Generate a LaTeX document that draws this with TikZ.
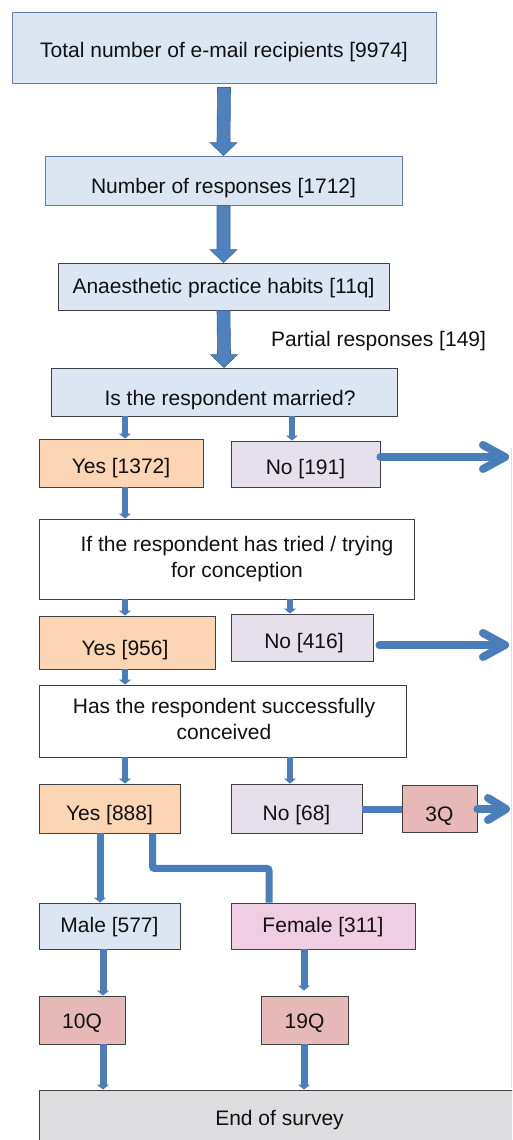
\documentclass[tikz,border=0pt]{standalone}
\usepackage{fontspec}
\setmainfont{Liberation Sans}
\usetikzlibrary{arrows.meta,calc}
\definecolor{abl}{HTML}{4A7EBB}
\definecolor{blkf}{HTML}{4F81BD}
\definecolor{blkd}{HTML}{3A6699}
\definecolor{bfill}{HTML}{DCE6F2}
\definecolor{bdraw}{HTML}{5B80B0}
\definecolor{dgrey}{HTML}{404040}
\definecolor{peach}{HTML}{FCD5B4}
\definecolor{lav}{HTML}{E6E0EC}
\definecolor{rose}{HTML}{E6B9B8}
\definecolor{fpink}{HTML}{EFCDE3}
\definecolor{egrey}{HTML}{DDDDDF}
\definecolor{txt}{HTML}{111111}
\newcommand\blkarrow[2]{\filldraw[fill=blkf, draw=blkd, line width=0.6pt]
  ($(#1)+(-6.5,0)$) -- ($(#2)+(-6.5,-13)$) -- ($(#2)+(-13.5,-13)$) -- (#2) --
  ($(#2)+(13.5,-13)$) -- ($(#2)+(6.5,-13)$) -- ($(#1)+(6.5,0)$) -- cycle;}
\begin{document}
\begin{tikzpicture}[x=1pt,y=-1pt,
  bx/.style={draw=dgrey, line width=0.9pt, inner sep=0pt, align=center, text=txt,
    font=\fontsize{21}{25.5}\selectfont},
  th/.style={text height=#1, text depth=0pt},
  plain/.style={inner sep=0pt, align=center, text=txt, font=\fontsize{21}{25.5}\selectfont},
  sarr/.style={draw=abl, line width=6.5pt, -{Triangle[width=12pt,length=5pt]}},
  thick line/.style={draw=abl, line width=7pt},
  chev/.style={draw=abl, line width=8pt, line cap=round, line join=round}]
\useasboundingbox (0,0) rectangle (512,1140);
\clip (0,0) rectangle (512,1140);
\fill[white] (0,0) rectangle (512,1140);

% faint right edge line
\coordinate (rt) at (511,448);
\coordinate (rb) at (511,1088);
\draw[black!12, line width=0.8pt] (rt) -- (rb);

% nodes
\node[bx, th=20pt, fill=bfill, draw=bdraw, minimum width=424pt, minimum height=71pt] (tot) at (224,47.5) {Total number of e-mail recipients [9974]};
\node[bx, th=25pt, fill=bfill, draw=bdraw, minimum width=357pt, minimum height=49pt] (resp) at (223.5,180.5) {Number of responses [1712]};
\node[bx, th=13pt, fill=bfill, minimum width=331pt, minimum height=47pt] (ana) at (223.5,286.5) {Anaesthetic practice habits [11q]};
\node[plain, anchor=west] (part) at (271,341) {Partial responses [149]};
\node[bx, th=27pt, fill=bfill, minimum width=346pt, minimum height=48pt] (mar) at (224,392) {\hspace*{12pt}Is the respondent married?};

\node[bx, th=21pt, fill=peach, minimum width=164pt, minimum height=48pt] (y1) at (121,463) {Yes [1372]};
\node[bx, th=20pt, fill=lav, minimum width=149pt, minimum height=46pt] (n1) at (305.5,464) {No [191]};

\node[bx, fill=white, minimum width=375pt, minimum height=80pt] (q2) at (226.5,559) {};
\node[plain] (q2t) at (237,559.3) {If the respondent has tried / trying\\for conception};

\node[bx, fill=peach, minimum width=176pt, minimum height=53pt] (y2) at (127,642.5) {};
\node[plain] (y2t) at (125,650) {Yes [956]};
\node[bx, fill=lav, minimum width=142pt, minimum height=47pt] (n2) at (302,637.5) {};
\node[plain] (n2t) at (304,643) {No [416]};

\node[bx, fill=white, minimum width=367pt, minimum height=72pt] (q3) at (222.5,721) {};
\node[plain] (q3t) at (224,719.2) {Has the respondent successfully\\conceived};

\node[bx, th=23pt, fill=peach, minimum width=141pt, minimum height=49pt] (y3) at (109.5,808.5) {Yes [888]};
\node[bx, th=23pt, fill=lav, minimum width=131pt, minimum height=49pt] (n3) at (296.5,808.5) {No [68]};
\node[bx, th=26pt, fill=rose, minimum width=75pt, minimum height=47pt] (q3q) at (439.5,808.5) {3Q};

\node[bx, th=13pt, fill=bfill, minimum width=141pt, minimum height=46pt] (male) at (109.5,926) {Male [577]};
\node[bx, th=13pt, fill=fpink, minimum width=184pt, minimum height=46pt] (fem) at (323,926) {Female [311]};

\node[bx, th=16pt, fill=rose, minimum width=86pt, minimum height=48pt] (q10) at (82,1020) {10Q};
\node[bx, th=16pt, fill=rose, minimum width=87pt, minimum height=48pt] (q19) at (304.5,1020) {19Q};

\node[bx, th=15pt, fill=egrey, minimum width=481pt, minimum height=56pt] (end) at (279.5,1118) {End of survey};

% block arrows
\coordinate (a1s) at ($(tot.south)+(0,4)$);
\blkarrow{a1s}{resp.north}
\blkarrow{resp.south}{ana.north}
\blkarrow{ana.south}{mar.north}

% column guides
\coordinate (L) at (125,0);
\coordinate (R) at (292,0);
\coordinate (R2) at (290,0);
\coordinate (M) at (100,0);
\coordinate (M2) at (103,0);
\coordinate (F1) at (152.5,0);
\coordinate (F2) at (269,0);
\coordinate (G) at (304,0);

\draw[sarr] (mar.south -| L) -- (y1.north -| L);
\draw[sarr] (mar.south -| R) -- (n1.north -| R);
\draw[sarr] (y1.south -| L) -- (q2.north -| L);
\draw[sarr] (q2.south -| L) -- (y2.north -| L);
\draw[sarr] (q2.south -| R2) -- (n2.north -| R2);
\draw[sarr] (y2.south -| L) -- (q3.north -| L);
\draw[sarr] (q3.south -| L) -- (y3.north -| L);
\draw[sarr] (q3.south -| R2) -- (n3.north -| R2);

% right exits
\coordinate (e1) at (505,457);
\coordinate (e2) at (505,645);
\coordinate (e3) at (506,809);
\draw[chev] (n1.east |- e1) -- (e1);
\draw[chev] ($(e1)+(-22,-12)$) -- (e1) -- ($(e1)+(-22,12)$);
\draw[chev, shorten <=6pt] (n2.east |- e2) -- (e2);
\draw[chev] ($(e2)+(-22,-12)$) -- (e2) -- ($(e2)+(-22,12)$);
\draw[thick line] (n3.east |- e3) -- (q3q.west |- e3);
\draw[chev] (q3q.east |- e3) -- (e3);
\draw[chev] ($(e3)+(-18,-11)$) -- (e3) -- ($(e3)+(-18,11)$);

% sex split
\draw[sarr, line width=7pt] (y3.south -| M) -- (male.north -| M);
\draw[thick line, rounded corners=2pt] (y3.south -| F1) -- ++(0,35) -| (fem.north -| F2);
\draw[sarr, line width=7pt] (male.south -| M2) -- (q10.north -| M2);
\draw[sarr, line width=7pt, shorten >=5pt] (fem.south -| G) -- (q19.north -| G);
\draw[sarr, line width=7pt] (q10.south -| M2) -- (end.north -| M2);
\draw[sarr, line width=7pt] (q19.south -| G) -- (end.north -| G);
\end{tikzpicture}
\end{document}
